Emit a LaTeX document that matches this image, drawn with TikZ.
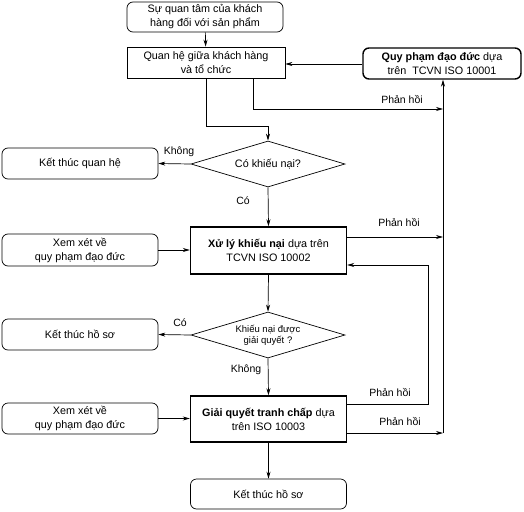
\documentclass[tikz,border=0pt]{standalone}
\usepackage{fontspec}
\setmainfont{Liberation Sans}
\usepackage{tikz}
\usetikzlibrary{shapes.geometric,arrows.meta}

\tikzset{
  box/.style={draw, line width=0.7pt, minimum width=156pt, minimum height=31pt, align=center, inner sep=1pt},
  softbox/.style={box, rounded corners=6pt},
  mainbox/.style={box, line width=1.4pt},
  query/.style={draw, line width=0.7pt, diamond, aspect=3.35, minimum width=154pt, minimum height=46pt, inner sep=0pt, align=center},
  flow/.style={line width=0.7pt, -{Stealth[length=7pt,width=4pt]}},
  tag/.style={font=\fontsize{10.5}{12}\selectfont}
}

\begin{document}
\begin{tikzpicture}[x=1pt, y=-1pt, font=\fontsize{10.8}{14}\selectfont]
    \useasboundingbox (0,0) rectangle (524,511);

    % Customer side
    \node[softbox, minimum height=30pt] (start) at (205,17) {Sự quan tâm của khách\\hàng đối với sản phẩm};
    \node[box, minimum width=158pt] (rel) at (206,62.5) {Quan hệ giữa khách hàng\\và tổ chức};
    \node[softbox, line width=1.4pt, minimum width=158pt] (code) at (442,63.5) {\textbf{Quy phạm đạo đức} dựa\\trên~ TCVN ISO 10001};

    % Complaints
    \node[query] (hasclaim) at (268,164) {Có khiếu nại?};
    \node[softbox] (endrel) at (80,163.5) {Kết thúc quan hệ};
    \node[mainbox, minimum height=47pt] (handle) at (268.5,250.5) {\textbf{Xử lý khiếu nại} dựa trên\\TCVN ISO 10002};
    \node[softbox, minimum height=32pt] (ethicA) at (80,250) {Xem xét về\\quy phạm đạo đức};

    \node[query, font=\fontsize{9.5}{11}\selectfont] (solved) at (268,335) {Khiếu nại được\\giải quyết ?};
    \node[softbox] (endfileA) at (80,334.5) {Kết thúc hồ sơ};

    % Disputes
    \node[mainbox, minimum height=46pt] (resolve) at (268.5,419) {\textbf{Giải quyết tranh chấp} dựa\\trên ISO 10003};
    \node[softbox] (ethicB) at (80,418.5) {Xem xét về\\quy phạm đạo đức};
    \node[softbox, minimum height=30pt] (endfileB) at (268.5,494) {Kết thúc hồ sơ};

    % feedback line
    \coordinate (fbA) at (443,109);
    \coordinate (fbB) at (443,237);
    \coordinate (fbC) at (443,433);
    \coordinate (loop) at (428,404);

    \draw[flow] (start) -- (rel);
    \draw[flow] (code.west |- 0,64) -- (rel.east |- 0,64);
    \draw[flow] (rel.south) -- ++(0,48) -| (hasclaim.north);
    \draw[flow] ([xshift=47pt]rel.south) |- (fbA);
    \draw[flow] (fbC) -- (fbC |- code.south);

    \draw[flow] (hasclaim.west) -- (endrel.east);
    \draw[flow] (hasclaim.south) -- (handle.north);
    \draw[flow] (ethicA.east) -- (ethicA.east -| handle.west);
    \draw[flow] ([yshift=13.5pt]handle.east) -- (fbB);
    \draw[flow] (handle.south) -- (solved.north);

    \draw[flow] (solved.west) -- (endfileA.east);
    \draw[flow] (solved.south) -- (resolve.north);
    \draw[flow] (ethicB.east) -- (ethicB.east -| resolve.west);
    \draw[flow] (resolve.east |- loop) -- (loop) -- ([yshift=-14.5pt]handle.east -| loop) -- ([yshift=-14.5pt]handle.east);
    \draw[flow] (resolve.east |- fbC) -- (fbC);
    \draw[flow] (resolve.south) -- (endfileB.north);

    % labels
    \node[tag] (lblA) at (402,100) {Phản hồi};
    \node[tag] (lblB) at (399,223) {Phản hồi};
    \node[tag] (lblC) at (390,393) {Phản hồi};
    \node[tag] (lblD) at (400,422) {Phản hồi};
    \node[tag] (no1) at (179,152) {Không};
    \node[tag] (yes1) at (243,201) {Có};
    \node[tag] (yes2) at (180,323) {Có};
    \node[tag] (no2) at (246,370) {Không};
\end{tikzpicture}
\end{document}
